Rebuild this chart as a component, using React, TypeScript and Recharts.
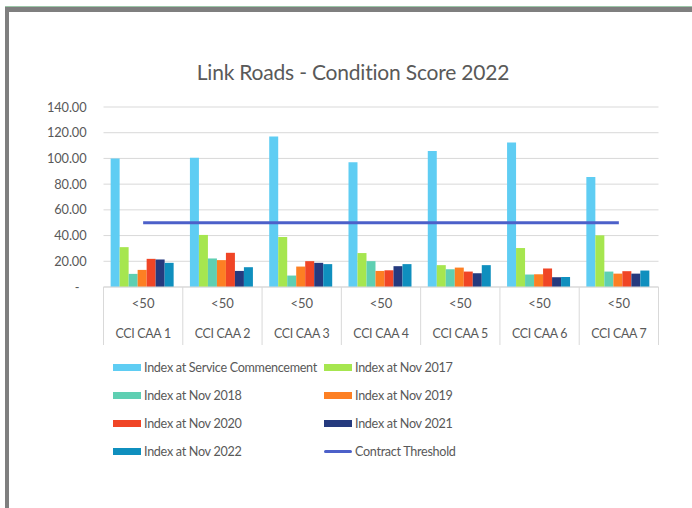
import {
  ComposedChart,
  Bar,
  Line,
  XAxis,
  YAxis,
  CartesianGrid,
  Legend
} from "recharts";

const categories = ["CCI CAA 1", "CCI CAA 2", "CCI CAA 3", "CCI CAA 4", "CCI CAA 5", "CCI CAA 6", "CCI CAA 7"];
const bandLabels = ["<50", "<50", "<50", "<50", "<50", "<50", "<50"];

const serviceCommencement = [100, 100.5, 117, 97.1, 105.7, 112.3, 85.6];
const nov2017 = [31, 40.5, 38.9, 26.4, 17, 30.3, 40.2];
const nov2018 = [10.2, 22.2, 8.9, 20.1, 13.8, 9.7, 12];
const nov2019 = [13.3, 20.9, 15.9, 12.5, 15.1, 9.9, 10.4];
const nov2020 = [21.9, 26.6, 20.1, 13, 12, 14.4, 12.3];
const nov2021 = [21.4, 12.5, 18.8, 16.2, 10.7, 7.6, 10.4];
const nov2022 = [18.8, 15.4, 17.8, 17.8, 17, 7.8, 12.8];
const contractThreshold = [50, 50, 50, 50, 50, 50, 50];

const yTicks = [0, 20, 40, 60, 80, 100, 120, 140];

const barSeries = [
  { key: "sc", name: "Index at Service Commencement", color: "#5fcdf3", values: serviceCommencement },
  { key: "n17", name: "Index at Nov 2017", color: "#a6e64f", values: nov2017 },
  { key: "n18", name: "Index at Nov 2018", color: "#5ecfb2", values: nov2018 },
  { key: "n19", name: "Index at Nov 2019", color: "#fd7f23", values: nov2019 },
  { key: "n20", name: "Index at Nov 2020", color: "#f04526", values: nov2020 },
  { key: "n21", name: "Index at Nov 2021", color: "#253a7e", values: nov2021 },
  { key: "n22", name: "Index at Nov 2022", color: "#0f8fbe", values: nov2022 }
];
const thresholdColor = "#4c60c9";

const data = categories.map((c, i) => {
  const row: any = { name: c, band: bandLabels[i], threshold: contractThreshold[i] };
  barSeries.forEach((s) => (row[s.key] = s.values[i]));
  return row;
});

const W = 692;
const H = 508;
const plotLeft = 103.5;
const plotRight = 658.5;
const plotTop = 107;
const plotBottom = 287;
const xAxisHeight = 60;
const bandW = (plotRight - plotLeft) / categories.length;
const textColor = "#595959";
const font = "Lato, 'Open Sans', sans-serif";

function XTick(props: any) {
  const { x, y, payload, index } = props;
  const last = index === categories.length - 1;
  return (
    <g>
      <line x1={x - bandW / 2} x2={x - bandW / 2} y1={y} y2={y + 58} stroke="#d9d9d9" />
      {last && <line x1={x + bandW / 2} x2={x + bandW / 2} y1={y} y2={y + 58} stroke="#d9d9d9" />}
      <text x={x} y={y + 21} textAnchor="middle" fill={textColor} fontSize={13}>
        {bandLabels[index]}
      </text>
      <text x={x} y={y + 51} textAnchor="middle" fill={textColor} fontSize={12.4} letterSpacing={-0.3}>
        {payload.value}
      </text>
    </g>
  );
}

function YTick(props: any) {
  const { x, y, payload } = props;
  const zero = payload.value === 0;
  return (
    <text x={zero ? x - 7 : x} y={y} dy={4.5} textAnchor="end" fill={textColor} fontSize={12.8} letterSpacing={-0.1}>
      {zero ? "-" : Number(payload.value).toFixed(2)}
    </text>
  );
}

function LegendBox() {
  const items = [
    ...barSeries.map((s) => ({ name: s.name, color: s.color, line: false })),
    { name: "Contract Threshold", color: thresholdColor, line: true }
  ];
  return (
    <div style={{ position: "relative", width: W, height: 4 * 28, fontFamily: font }}>
      {items.map((it, i) => {
        const col = i % 2;
        const row = Math.floor(i / 2);
        return (
          <div
            key={it.name}
            style={{
              position: "absolute",
              left: col === 0 ? 113 : 324,
              top: row * 28,
              height: 28,
              display: "flex",
              alignItems: "center",
              whiteSpace: "nowrap",
              fontSize: 12.6,
              letterSpacing: -0.3,
              color: textColor
            }}
          >
            <span
              style={{
                display: "inline-block",
                width: 28,
                height: it.line ? 3 : 7,
                borderRadius: it.line ? 2 : 0,
                background: it.color,
                marginRight: 3
              }}
            />
            {it.name}
          </div>
        );
      })}
    </div>
  );
}

export default function App() {
  return (
    <div style={{ position: "absolute", left: 0, top: 0, width: W, height: H, background: "#fff", fontFamily: font }}>
      <div style={{ position: "absolute", left: 5, top: 6, right: 0, height: 1, background: "#9cc7a8" }} />
      <div
        style={{
          position: "absolute",
          left: 5,
          top: 7,
          right: 0,
          bottom: 0,
          borderTop: "5px solid #7f7f7f",
          borderLeft: "4px solid #7f7f7f"
        }}
      />
      <div
        style={{
          position: "absolute",
          left: 193,
          width: 320,
          top: 59,
          textAlign: "center",
          whiteSpace: "nowrap",
          fontSize: 21,
          letterSpacing: -0.2,
          color: textColor
        }}
      >
        Link Roads - Condition Score 2022
      </div>
      <div style={{ position: "absolute", left: 0, top: 0 }}>
        <ComposedChart
          width={W}
          height={H}
          data={data}
          barCategoryGap="9%"
          barGap={0}
          margin={{ top: plotTop, right: W - plotRight, left: 0, bottom: H - plotBottom - xAxisHeight }}
        >
          <CartesianGrid vertical={false} stroke="#d9d9d9" />
          <XAxis
            dataKey="name"
            height={xAxisHeight}
            axisLine={{ stroke: "#d9d9d9" }}
            tickLine={false}
            tickSize={0}
            tickMargin={0}
            interval={0}
            tick={<XTick />}
          />
          <YAxis
            width={plotLeft}
            domain={[0, 140]}
            ticks={yTicks}
            axisLine={false}
            tickLine={false}
            tickSize={0}
            tickMargin={17}
            tick={<YTick />}
          />
          {barSeries.map((s) => (
            <Bar key={s.key} dataKey={s.key} name={s.name} fill={s.color} isAnimationActive={false} />
          ))}
          <Line
            type="linear"
            dataKey="threshold"
            name="Contract Threshold"
            stroke={thresholdColor}
            strokeWidth={3}
            dot={false}
            activeDot={false}
            isAnimationActive={false}
          />
          <Legend
            layout="horizontal"
            verticalAlign="middle"
            align="center"
            wrapperStyle={{ left: 0, top: 353, width: W }}
            content={() => <LegendBox />}
          />
        </ComposedChart>
      </div>
    </div>
  );
}
